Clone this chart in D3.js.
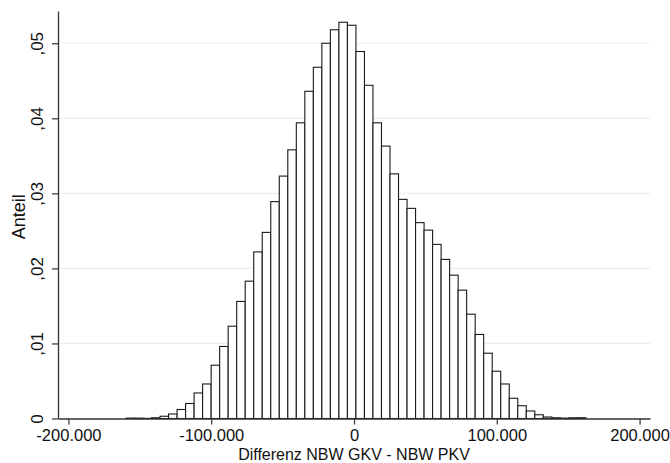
<!DOCTYPE html>
<html>
<head>
<meta charset="utf-8">
<script src="https://cdn.jsdelivr.net/npm/d3@7"></script>
<style>
  body { margin: 0; background: #fff; }
  svg text { font-family: "Liberation Sans", Arial, sans-serif; fill: #111; }
</style>
</head>
<body>
<div id="chart"></div>
<script>
// histogram bins: first edge and width (in Euro), shares per bin
var binStart = -159700;
var binWidth = 5965;
var shares = [
    0.00005, 0.00005, 0.00002, 0.0001, 0.0003, 0.0006, 0.0012, 0.0020, 0.0034, 0.0046,
    0.0071, 0.0096, 0.0123, 0.0156, 0.0183, 0.0222, 0.0248, 0.0289, 0.0323, 0.0358,
    0.0394, 0.0436, 0.0468, 0.0500, 0.0518, 0.0528, 0.0524, 0.0489, 0.0444, 0.0394,
    0.0363, 0.0326, 0.0292, 0.0280, 0.0261, 0.0251, 0.0232, 0.0212, 0.0191, 0.0171,
    0.0139, 0.0112, 0.0087, 0.0063, 0.0046, 0.0027, 0.0017, 0.0010, 0.0005, 0.0002,
    0.0001, 0.00005, 0.0001, 0.0001
];

var xTicks = [-200000, -100000, 0, 100000, 200000];
var xTickLabels = ["-200.000", "-100.000", "0", "100.000", "200.000"];
var yTicks = [0, 0.01, 0.02, 0.03, 0.04, 0.05];
var yTickLabels = ["0", ",01", ",02", ",03", ",04", ",05"];

var xTitle = "Differenz NBW GKV - NBW PKV";
var yTitle = "Anteil";

var svgWidth = 670;
var svgHeight = 463;

var plot = { left: 58, right: 650, top: 11, bottom: 418.5 };

var svg = d3.select("#chart")
    .append("svg")
    .attr("width", svgWidth)
    .attr("height", svgHeight);

svg.append("rect")
    .attr("width", svgWidth)
    .attr("height", svgHeight)
    .attr("fill", "#fff");

var xScale = d3.scaleLinear()
    .domain([-207300, 207300])
    .range([plot.left, plot.right]);

var yScale = d3.scaleLinear()
    .domain([0, 0.0543])
    .range([plot.bottom, plot.top]);

// gridlines
svg.append("g")
    .selectAll("line")
    .data(yTicks.filter(d => d > 0))
    .enter()
    .append("line")
    .attr("x1", plot.left)
    .attr("x2", plot.right)
    .attr("y1", d => yScale(d))
    .attr("y2", d => yScale(d))
    .attr("stroke", "#e6eff1")
    .attr("stroke-width", 1.2);

// bars
var bins = shares.map(function (v, i) {
    return { x0: binStart + i * binWidth, x1: binStart + (i + 1) * binWidth, v: v };
});

svg.append("g")
    .selectAll("rect")
    .data(bins)
    .enter()
    .append("rect")
    .attr("x", d => xScale(d.x0))
    .attr("width", d => xScale(d.x1) - xScale(d.x0))
    .attr("y", d => yScale(d.v))
    .attr("height", d => yScale(0) - yScale(d.v))
    .attr("fill", "#fff")
    .attr("stroke", "#1a1a1a")
    .attr("stroke-width", 1.1);

// axes
var bottomAxis = d3.axisBottom(xScale)
    .tickValues(xTicks)
    .tickFormat((d, i) => xTickLabels[i])
    .tickSize(6)
    .tickSizeOuter(0)
    .tickPadding(5);

var leftAxis = d3.axisLeft(yScale)
    .tickValues(yTicks)
    .tickFormat((d, i) => yTickLabels[i])
    .tickSize(6)
    .tickSizeOuter(0);

var xAxisG = svg.append("g")
    .attr("transform", `translate(0, ${plot.bottom})`)
    .call(bottomAxis);

xAxisG.selectAll("text")
    .attr("font-size", "16.5px")
    .attr("font-family", "Liberation Sans, Arial, sans-serif")
    .attr("fill", "#111");

var yAxisG = svg.append("g")
    .attr("transform", `translate(${plot.left}, 0)`)
    .call(leftAxis);

yAxisG.selectAll("text")
    .attr("transform", "rotate(-90)")
    .attr("x", 0)
    .attr("y", -15)
    .attr("dy", 0)
    .attr("text-anchor", "middle")
    .attr("font-size", "17px")
    .attr("font-family", "Liberation Sans, Arial, sans-serif")
    .attr("fill", "#111");

svg.selectAll(".domain").attr("stroke", "#333").attr("stroke-width", 1.3);
svg.selectAll(".tick line").attr("stroke", "#333").attr("stroke-width", 1.2);

// axis titles
svg.append("text")
    .attr("x", (plot.left + plot.right) / 2)
    .attr("y", 459.5)
    .attr("text-anchor", "middle")
    .attr("font-size", "16px")
    .text(xTitle);

svg.append("text")
    .attr("transform", `translate(25, ${(plot.top + plot.bottom) / 2 + 2}) rotate(-90)`)
    .attr("text-anchor", "middle")
    .attr("font-size", "18px")
    .text(yTitle);
</script>
</body>
</html>
